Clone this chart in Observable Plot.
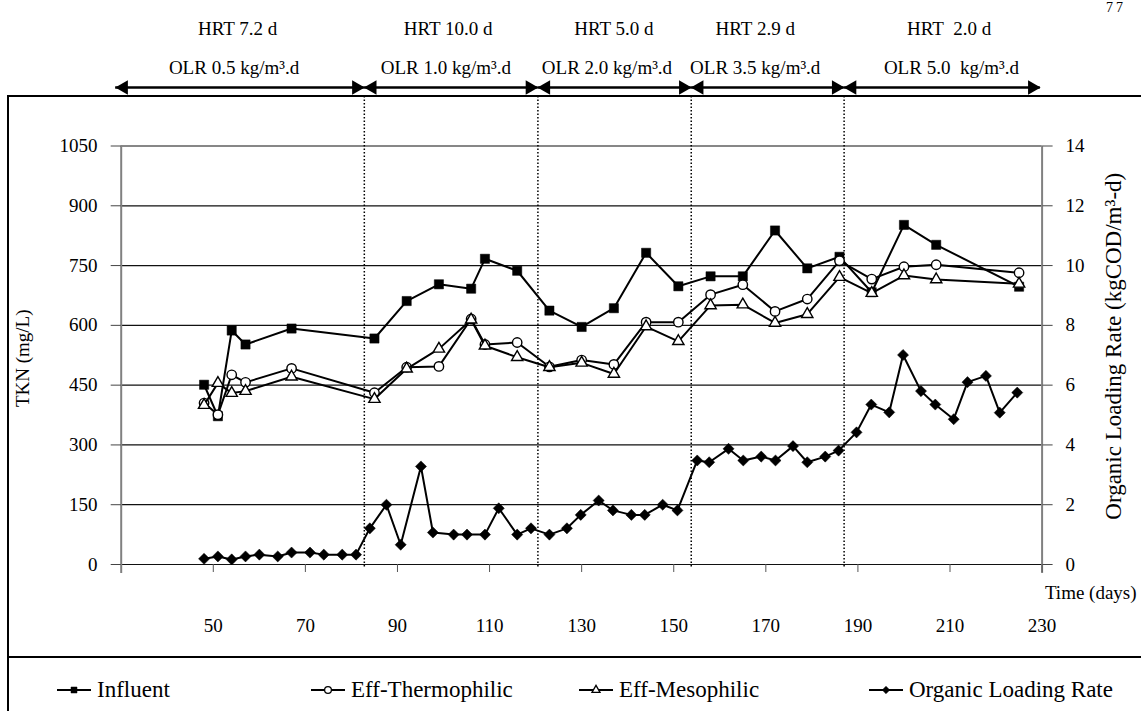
<!DOCTYPE html>
<html>
<head>
<meta charset="utf-8">
<script src="https://cdn.jsdelivr.net/npm/d3@7"></script>
<script src="https://cdn.jsdelivr.net/npm/@observablehq/plot@0.6"></script>
<style>
  body { margin: 0; background: #fff; font-family: "Liberation Serif", "Times New Roman", serif; }
  #wrap { position: relative; width: 1141px; height: 711px; overflow: hidden; background: #fff; }
  #chart svg { display: block; }
  #frame { position: absolute; left: 7px; top: 95px; width: 1134px; height: 616px;
           border-left: 2px solid #000; border-top: 2px solid #000; pointer-events: none; box-sizing: border-box; }
  #legend { position: absolute; left: 7px; top: 656px; width: 1134px; height: 55px;
            border-top: 2px solid #000; box-sizing: border-box; }
  .item { position: absolute; top: 19px; height: 26px; display: flex; align-items: center;
          font-size: 23px; color: #000; white-space: nowrap; }
  .item svg { margin-right: 5px; }
  #pagenum { position: absolute; left: 1106px; top: 1px; font-size: 14px; line-height: 14px; letter-spacing: 3px; }
</style>
</head>
<body>
<div id="wrap">
  <div id="chart"></div>
  <div id="frame"></div>
  <div id="legend"></div>
  <div id="pagenum">77</div>
</div>
<script>
// ---- data ----
const tknDays      = [48, 51, 54, 57, 67, 85, 92, 99, 106, 109, 116, 123, 130, 137, 144, 151, 158, 165, 172, 179, 186, 193, 200, 207, 225];
const influent     = [451, 372, 587, 552, 592, 567, 661, 703, 692, 767, 737, 637, 596, 643, 782, 698, 723, 723, 838, 743, 772, 683, 852, 802, 697];
const thermophilic = [405, 376, 476, 457, 492, 431, 495, 497, 616, 552, 557, 496, 513, 502, 608, 608, 677, 702, 635, 666, 762, 716, 747, 752, 732];
const mesophilic   = [400, 455, 430, 435, 471, 415, 491, 541, 614, 549, 520, 495, 506, 478, 597, 560, 650, 652, 606, 628, 721, 681, 725, 715, 704];

const olrDays   = [48, 51, 54, 57, 60, 64, 67, 71, 74, 78, 81, 84, 87.6, 90.7, 95.1, 97.7, 102.2, 105.1, 109, 112, 116, 119, 123, 126.8, 129.8, 133.7, 136.8, 140.8, 143.7, 147.6, 150.8, 155.1, 157.7, 161.9, 165.1, 169, 172.1, 175.9, 179, 182.9, 185.8, 189.7, 192.9, 196.8, 199.8, 203.7, 206.8, 210.8, 213.8, 217.8, 220.8, 224.6];
const olrValues = [0.19, 0.27, 0.17, 0.27, 0.33, 0.27, 0.40, 0.40, 0.33, 0.33, 0.33, 1.21, 2.0, 0.66, 3.28, 1.07, 1.0, 1.0, 1.0, 1.88, 1.0, 1.21, 1.0, 1.21, 1.66, 2.14, 1.81, 1.66, 1.66, 2.0, 1.81, 3.48, 3.42, 3.87, 3.48, 3.61, 3.48, 3.96, 3.42, 3.61, 3.81, 4.42, 5.35, 5.09, 7.01, 5.80, 5.35, 4.86, 6.10, 6.31, 5.08, 5.75];

// phases (days)
const phaseBounds   = [28.8, 82.8, 120.5, 153.8, 187.0, 229.6];
const hrtLabels     = ["HRT 7.2 d", "HRT 10.0 d", "HRT 5.0 d", "HRT 2.9 d", "HRT\u00a0 2.0 d"];
const olrLabels     = ["OLR 0.5 kg/m\u00b3.d", "OLR 1.0 kg/m\u00b3.d", "OLR 2.0 kg/m\u00b3.d", "OLR 3.5 kg/m\u00b3.d", "OLR 5.0\u00a0 kg/m\u00b3.d"];
const hrtLabelDays  = [55.3, 101.0, 137.0, 167.7, 209.8];
const olrLabelDays  = [54.5, 100.5, 135.5, 167.7, 210.3];

// axes
const yTicksLeft  = [0, 150, 300, 450, 600, 750, 900, 1050];
const yTicksRight = [0, 2, 4, 6, 8, 10, 12, 14];
const xTicks      = [50, 70, 90, 110, 130, 150, 170, 190, 210, 230];
const xDomain     = [30, 230];

const seriesNames   = ["Influent", "Eff-Thermophilic", "Eff-Mesophilic", "Organic Loading Rate"];
const seriesSymbols = ["square", "circle", "triangle", "diamond2"];
const seriesFills   = ["#000", "#fff", "#fff", "#000"];

// ---- derived tables ----
const yMax = yTicksLeft[yTicksLeft.length - 1];
const ratio = yMax / yTicksRight[yTicksRight.length - 1]; // TKN units per OLR unit
const tkn = tknDays.map((d, i) => ({day: d, influent: influent[i], thermo: thermophilic[i], meso: mesophilic[i]}));
const olr = olrDays.map((d, i) => ({day: d, v: olrValues[i] * ratio}));
const segments = phaseBounds.slice(0, -1).map((s, i) => ({start: s, end: phaseBounds[i + 1]}));
const boundaries = phaseBounds.slice(1, -1);

const chart = Plot.plot({
  width: 1141,
  height: 657,
  marginTop: 145.5,
  marginBottom: 93,
  marginLeft: 120.7,
  marginRight: 99.4,
  x: {domain: xDomain},
  y: {domain: [0, yMax]},
  style: {fontFamily: "'Liberation Serif', 'Times New Roman', serif", fontSize: "19px", color: "#000", background: "transparent", overflow: "visible"},
  marks: [
    Plot.gridY(yTicksLeft, {stroke: "#111", strokeOpacity: 1, strokeWidth: 1.2}),
    Plot.ruleX([xDomain[0], xDomain[1]], {y1: yMax, y2: 0, insetBottom: -9, stroke: "#808080", strokeWidth: 2}),
    Plot.axisY({ticks: yTicksLeft, anchor: "left", tickSize: 10, tickPadding: 13.7, label: null, stroke: "#444", tickFormat: (d) => String(d)}),
    Plot.axisY({ticks: yTicksLeft, anchor: "right", tickSize: 10, tickPadding: 13.4, label: null, stroke: "#444",
                tickFormat: (d) => String(yTicksRight[yTicksLeft.indexOf(d)])}),
    Plot.axisX({ticks: xTicks, anchor: "bottom", tickSize: 8, tickPadding: 45.5, label: null, stroke: "#555", tickFormat: (d) => String(d)}),
    Plot.text(["TKN (mg/L)"], {frameAnchor: "left", textAnchor: "middle", rotate: -90, dx: -98.7, dy: 3}),
    Plot.text(["Organic Loading Rate (kgCOD/m\u00b3-d)"], {frameAnchor: "right", textAnchor: "middle", rotate: -90, dx: 71.4, dy: -9, fontSize: 23}),
    Plot.text(["Time (days)"], {frameAnchor: "bottom-right", textAnchor: "end", dx: 94.5, dy: 34}),
    // phase boundaries
    Plot.ruleX(boundaries, {y1: yMax, y2: 0, insetTop: -49.5, insetBottom: -3, stroke: "#000", strokeWidth: 1.5, strokeDasharray: "1.5,2"}),
    // phase arrows
    Plot.ruleY(segments, {x1: "start", x2: "end", y: () => yMax, dy: -58.5, stroke: "#000", strokeWidth: 2.6}),
    Plot.dot(segments, {x: "end", y: () => yMax, dy: -58.5, dx: -8, symbol: "triangle", rotate: 90, r: 5.4, fill: "#000", stroke: null}),
    Plot.dot(segments, {x: "start", y: () => yMax, dy: -58.5, dx: 8, symbol: "triangle", rotate: -90, r: 5.4, fill: "#000", stroke: null}),
    Plot.text(hrtLabels, {x: (d, i) => hrtLabelDays[i], text: (d) => d, frameAnchor: "top", dy: -124.5}),
    Plot.text(olrLabels, {x: (d, i) => olrLabelDays[i], text: (d) => d, frameAnchor: "top", dy: -85.5}),
    // series
    Plot.line(tkn, {x: "day", y: "influent", stroke: "#000", strokeWidth: 2}),
    Plot.dot(tkn, {x: "day", y: "influent", symbol: seriesSymbols[0], r: 5.2, fill: seriesFills[0], stroke: "#000", strokeWidth: 0.5}),
    Plot.line(tkn, {x: "day", y: "thermo", stroke: "#000", strokeWidth: 2}),
    Plot.dot(tkn, {x: "day", y: "thermo", symbol: seriesSymbols[1], r: 4.7, fill: seriesFills[1], stroke: "#000", strokeWidth: 1.4}),
    Plot.line(tkn, {x: "day", y: "meso", stroke: "#000", strokeWidth: 2}),
    Plot.dot(tkn, {x: "day", y: "meso", symbol: seriesSymbols[2], r: 4.2, fill: seriesFills[2], stroke: "#000", strokeWidth: 1.4}),
    Plot.line(olr, {x: "day", y: "v", stroke: "#000", strokeWidth: 2}),
    Plot.dot(olr, {x: "day", y: "v", symbol: seriesSymbols[3], r: 5, fill: seriesFills[3], stroke: "#000", strokeWidth: 0.5})
  ]
});
document.getElementById("chart").appendChild(chart);

// ---- legend ----
const legendLeft = [49, 303, 571, 861];
const legend = d3.select("#legend");
const symMap = {square: d3.symbolSquare, circle: d3.symbolCircle, triangle: d3.symbolTriangle, diamond2: d3.symbolDiamond2};
seriesNames.forEach((name, i) => {
  const item = legend.append("div").attr("class", "item").style("left", legendLeft[i] + "px");
  const svg = item.append("svg").attr("width", 36).attr("height", 14);
  svg.append("line").attr("x1", 1).attr("x2", 35).attr("y1", 7).attr("y2", 7).attr("stroke", "#000").attr("stroke-width", 2);
  svg.append("path").attr("transform", "translate(18,7)")
    .attr("d", d3.symbol(symMap[seriesSymbols[i]], i === 2 ? 28 : 36)())
    .attr("fill", seriesFills[i]).attr("stroke", "#000").attr("stroke-width", i === 1 || i === 2 ? 1.3 : 0.5);
  item.append("span").text(name);
});
</script>
</body>
</html>
